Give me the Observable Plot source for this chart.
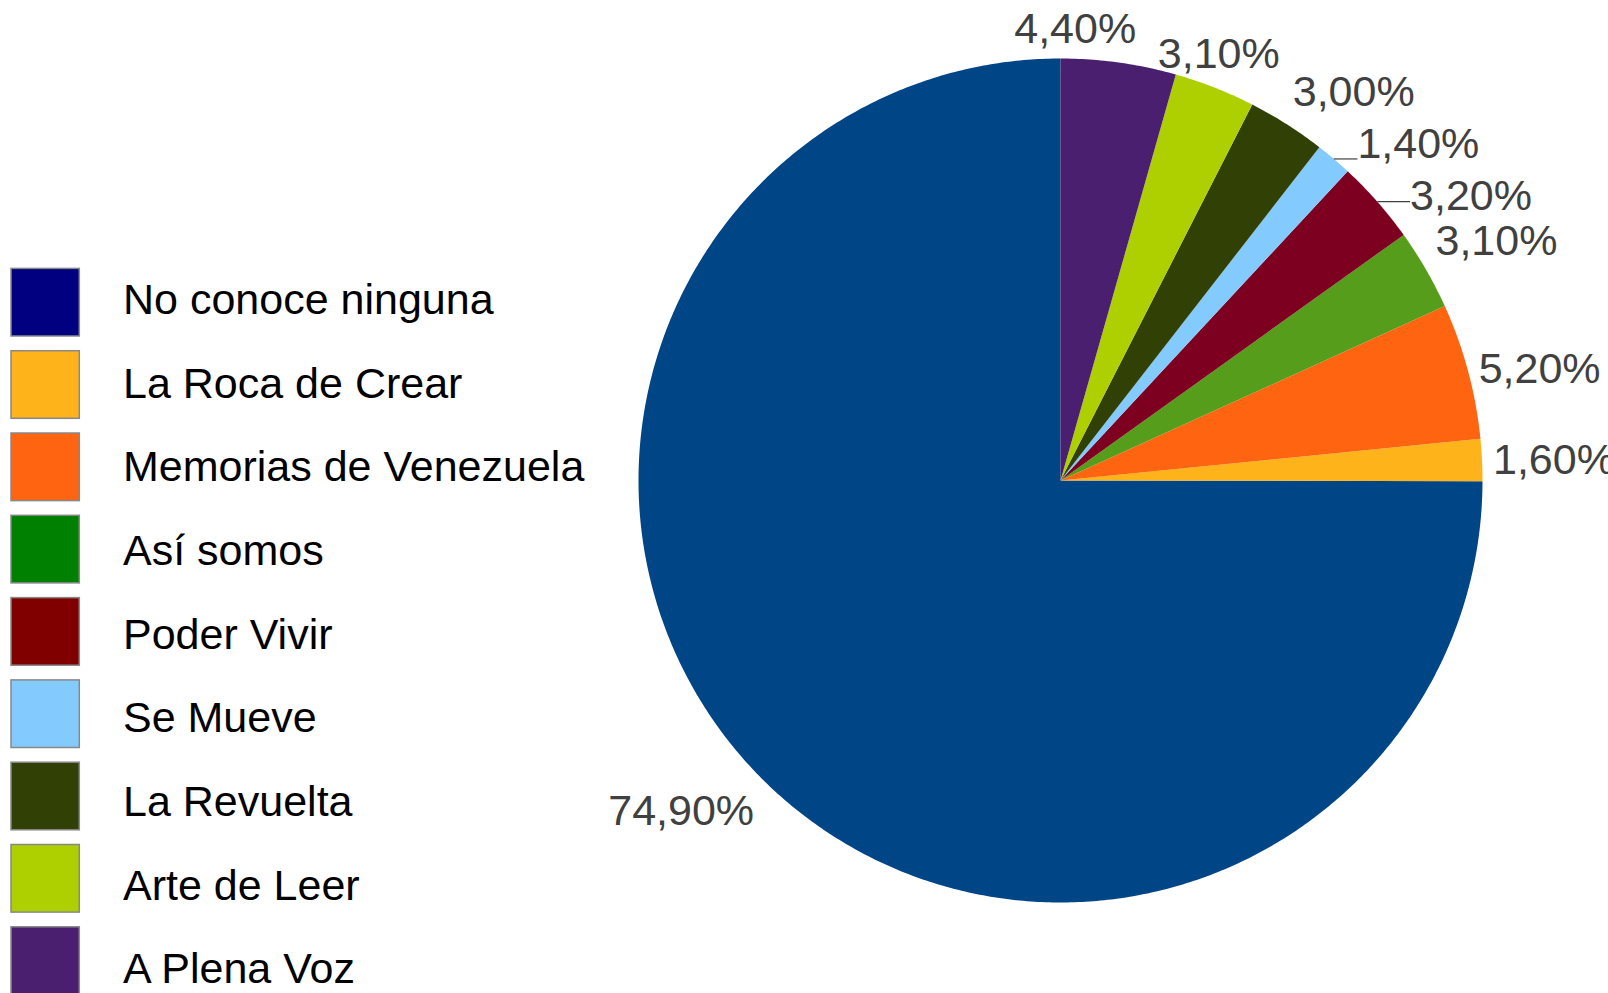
<!DOCTYPE html>
<html>
<head>
<meta charset="utf-8">
<script src="https://cdn.jsdelivr.net/npm/d3@7"></script>
<script src="https://cdn.jsdelivr.net/npm/@observablehq/plot@0.6"></script>
<style>
  html, body { margin: 0; padding: 0; background: #ffffff; }
  #chart { width: 1608px; height: 993px; overflow: hidden; }
  #chart svg { display: block; }
</style>
</head>
<body>
<div id="chart"></div>
<script>
// ---------- data ----------
const categories = ["No conoce ninguna", "La Roca de Crear", "Memorias de Venezuela", "Así somos", "Poder Vivir", "Se Mueve", "La Revuelta", "Arte de Leer", "A Plena Voz"];
const percentages = [74.9, 1.6, 5.2, 3.1, 3.2, 1.4, 3.0, 3.1, 4.4];
const sliceColors = ["#004586", "#ffb31a", "#ff6411", "#579d1c", "#7e0021", "#83caff", "#314004", "#aecf00", "#4b1f6f"];
const legendColors = ["#000080", "#ffb31a", "#ff6411", "#008000", "#800000", "#83caff", "#314004", "#aecf00", "#4b1f6f"];

// ---------- layout ----------
const W = 1608, H = 993;
const CX = 1060, CY = 480, R = 422;          // pie centre / radius in px
const FONT = 43;
const ASC = 0.905 * FONT, DESC = 0.212 * FONT;
const LABEL_GAP = 11;
const LEADER_MIN = 18;
// tangential moves applied to overlapping labels (px along the rounded tangent)
const labelShift = [0, 0, 0, 0, 24.5, 16.5, 0, 0, -45];
const LEG = {x0: 11, x1: 79.3, top: 268.4, size: 67.6, pitch: 82.3, textX: 122.5, base: 313.3, textPitch: 83.7};

const ux = px => (px - CX) / R;
const uy = py => (CY - py) / R;

const total = d3.sum(percentages);
const fmt = v => v.toFixed(2).replace(".", ",") + "%";
const ctx = document.createElement("canvas").getContext("2d");
ctx.font = `${FONT}px "Liberation Sans"`;

const slicePts = [];
const labels = [];
const leaders = [];
let acc = 0;
categories.forEach((cat, k) => {
  const a0 = acc / total * 2 * Math.PI;
  acc += percentages[k];
  const a1 = acc / total * 2 * Math.PI;
  // polygon in unit coordinates (counter-clockwise from 12 o'clock)
  const n = Math.max(2, Math.ceil((a1 - a0) / (Math.PI / 360)));
  slicePts.push({cat, x: 0, y: 0, color: sliceColors[k]});
  for (let j = 0; j <= n; j++) {
    const a = a0 + (a1 - a0) * j / n;
    slicePts.push({cat, x: -Math.sin(a), y: Math.cos(a), color: sliceColors[k]});
  }
  slicePts.push({cat, x: 0, y: 0, color: sliceColors[k]});

  // label placement
  const am = (a0 + a1) / 2;
  const dx = -Math.sin(am), dy = -Math.cos(am);   // screen direction
  const Ax = CX + (R + LABEL_GAP) * dx, Ay = CY + (R + LABEL_GAP) * dy;
  const text = fmt(percentages[k]);
  const w = ctx.measureText(text).width;
  const h = ASC + DESC;
  const phi = ((90 + am * 180 / Math.PI) % 360 + 360) % 360;
  let x0, top;
  if (phi <= 22.5 || phi > 337.5) { x0 = Ax; top = Ay - h / 2; }
  else if (phi < 67.5) { x0 = Ax; top = Ay - h; }
  else if (phi < 112.5) { x0 = Ax - w / 2; top = Ay - h; }
  else if (phi <= 157.5) { x0 = Ax - w; top = Ay - h; }
  else if (phi <= 202.5) { x0 = Ax - w; top = Ay - h / 2; }
  else if (phi < 247.5) { x0 = Ax - w; top = Ay; }
  else if (phi < 292.5) { x0 = Ax - w / 2; top = Ay; }
  else { x0 = Ax; top = Ay; }
  const rx = Math.round(dx), ry = Math.round(dy);
  x0 += labelShift[k] * (-ry);
  top += labelShift[k] * rx;
  labels.push({text, x: ux(x0), y: uy(top + ASC)});

  // leader line when label sits away from its slice
  const Px = CX + R * dx, Py = CY + R * dy;
  const nx = Math.max(x0, Math.min(x0 + w, Px));
  const ny = Math.max(top, Math.min(top + h, Py));
  if (Math.hypot(nx - Px, ny - Py) > LEADER_MIN) {
    leaders.push({x1: ux(Px), y1: uy(Py), x2: ux(nx), y2: uy(Py >= top && Py <= top + h ? Py : ny)});
  }
});

const legendRows = categories.map((cat, i) => ({cat, i, color: legendColors[i]}));

const chart = Plot.plot({
  width: W,
  height: H,
  margin: 0,
  x: {domain: [ux(0), ux(W)], range: [0, W], axis: null},
  y: {domain: [uy(H), uy(0)], range: [H, 0], axis: null},
  color: {type: "identity"},
  style: {background: "#ffffff", overflow: "hidden"},
  marks: [
    Plot.line(slicePts, {x: "x", y: "y", z: "cat", fill: "color", stroke: "none", curve: "linear"}),
    Plot.link(leaders, {x1: "x1", y1: "y1", x2: "x2", y2: "y2", stroke: "#404040", strokeWidth: 1.2}),
    Plot.text(labels, {x: "x", y: "y", text: "text", textAnchor: "start", lineAnchor: "bottom",
      fontSize: FONT, fontFamily: "Liberation Sans", fill: "#404040"}),
    Plot.rect(legendRows, {
      x1: () => ux(LEG.x0), x2: () => ux(LEG.x1),
      y1: d => uy(LEG.top + LEG.pitch * d.i), y2: d => uy(LEG.top + LEG.pitch * d.i + LEG.size),
      fill: "color", stroke: "#888888", strokeWidth: 1.5
    }),
    Plot.text(legendRows, {x: () => ux(LEG.textX), y: d => uy(LEG.base + LEG.textPitch * d.i), text: "cat",
      textAnchor: "start", lineAnchor: "bottom", fontSize: FONT, fontFamily: "Liberation Sans", fill: "#000000"})
  ]
});
document.getElementById("chart").appendChild(chart);
</script>
</body>
</html>
